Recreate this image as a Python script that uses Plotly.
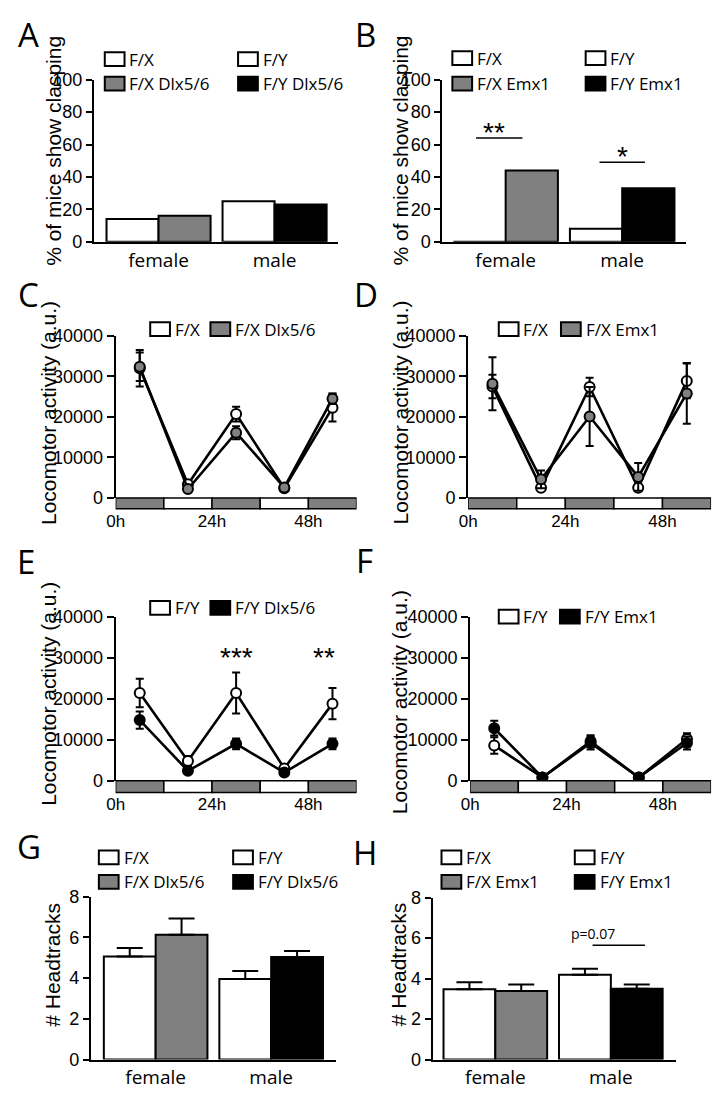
import plotly.graph_objects as go

# ---- data ----
sexes = ["female", "male"]

# A / B: % of mice showing clasping (left bar = control, right bar = mutant)
clasp_dlx_ctrl = [14, 25]      # F/X, F/Y
clasp_dlx_mut = [16, 23]       # F/X Dlx5/6, F/Y Dlx5/6
clasp_emx_ctrl = [0, 8]        # F/X, F/Y
clasp_emx_mut = [44, 33]       # F/X Emx1, F/Y Emx1

# C-F: locomotor activity across light/dark phases
hours = [6, 18, 30, 42, 54]
ld_edges = [0, 12, 24, 36, 48, 60]
ld_colors = ["#808080", "white", "#808080", "white", "#808080"]

loco_c_fx = [32000, 3400, 20700, 2400, 22300]
loco_c_fx_err = [4500, 800, 1800, 500, 3400]
loco_c_dlx = [32400, 2200, 16100, 2600, 24500]
loco_c_dlx_err = [3500, 600, 1600, 500, 1300]

loco_d_fx = [27500, 2500, 27400, 2500, 28900]
loco_d_fx_err = [2900, 800, 2300, 600, 4300]
loco_d_emx = [28200, 4600, 20100, 5200, 25800]
loco_d_emx_err = [6550, 2200, 7300, 3400, 7500]

loco_e_fy = [21400, 4800, 21400, 3000, 18800]
loco_e_fy_err = [3500, 1200, 5000, 900, 3800]
loco_e_dlx = [14800, 2400, 9000, 2000, 9000]
loco_e_dlx_err = [2100, 500, 1300, 500, 1300]

loco_f_fy = [8600, 800, 9200, 800, 10200]
loco_f_fy_err = [2000, 300, 1600, 300, 1400]
loco_f_emx = [12800, 800, 9600, 800, 9200]
loco_f_emx_err = [1800, 300, 1500, 300, 1600]

# G / H: number of headtracks
head_dlx_ctrl = [5.06, 3.95]
head_dlx_ctrl_err = [0.42, 0.40]
head_dlx_mut = [6.12, 5.03]
head_dlx_mut_err = [0.80, 0.30]
head_emx_ctrl = [3.47, 4.19]
head_emx_ctrl_err = [0.35, 0.29]
head_emx_mut = [3.39, 3.50]
head_emx_mut_err = [0.32, 0.21]

GRAY = "#808080"
W, H = 717, 1098


def px(x):
    return min(1.0, max(0.0, x / W))


def py(y):
    return min(1.0, max(0.0, 1 - y / H))


TICK = dict(family="Liberation Sans", size=18, color="black")
LABEL = dict(family="Open Sans", size=17, color="black")

fig = go.Figure()


def bars(ax, ctrl, mut, mut_colors, ctrl_err=None, mut_err=None):
    xa, ya = ("x" + ax, "y" + ax) if ax else ("x", "y")
    for vals, cols, err in ((ctrl, ["white", "white"], ctrl_err), (mut, mut_colors, mut_err)):
        e = None
        if err is not None:
            e = dict(type="data", array=err, symmetric=False, arrayminus=[0, 0],
                     color="black", thickness=2, width=13)
        fig.add_trace(go.Bar(x=sexes, y=vals, xaxis=xa, yaxis=ya,
                             marker=dict(color=cols, line=dict(color="black", width=2)),
                             error_y=e))


def lines(ax, series):
    for vals, err, col in series:
        fig.add_trace(go.Scatter(
            x=hours, y=vals, xaxis="x" + ax, yaxis="y" + ax, mode="lines+markers",
            line=dict(color="black", width=2.6),
            marker=dict(size=10, color=col, line=dict(color="black", width=2)),
            error_y=dict(type="data", array=err, color="black", thickness=2, width=4),
            cliponaxis=False))


bars("", clasp_dlx_ctrl, clasp_dlx_mut, [GRAY, "black"])
bars("2", clasp_emx_ctrl, clasp_emx_mut, [GRAY, "black"])
lines("3", [(loco_c_fx, loco_c_fx_err, "white"), (loco_c_dlx, loco_c_dlx_err, GRAY)])
lines("4", [(loco_d_fx, loco_d_fx_err, "white"), (loco_d_emx, loco_d_emx_err, GRAY)])
lines("5", [(loco_e_fy, loco_e_fy_err, "white"), (loco_e_dlx, loco_e_dlx_err, "black")])
lines("6", [(loco_f_fy, loco_f_fy_err, "white"), (loco_f_emx, loco_f_emx_err, "black")])
bars("7", head_dlx_ctrl, head_dlx_mut, [GRAY, "black"], head_dlx_ctrl_err, head_dlx_mut_err)
bars("8", head_emx_ctrl, head_emx_mut, [GRAY, "black"], head_emx_ctrl_err, head_emx_mut_err)


def yax(top, bottom, rng, dtick, anchor, ticklen=6):
    return dict(domain=[py(bottom), py(top)], range=rng, dtick=dtick, anchor=anchor,
                showline=True, linecolor="black", linewidth=2, ticks="outside",
                ticklen=ticklen, tickwidth=2, tickcolor="black", showgrid=False,
                zeroline=False, tickfont=TICK, tickformat="d")


def xbar(left, right, rng, anchor):
    return dict(domain=[px(left), px(right)], range=rng, anchor=anchor, showline=True,
                linecolor="black", linewidth=2, ticks="", showgrid=False, zeroline=False,
                tickfont=dict(family="Open Sans", size=19, color="black"))


def xline(left, right, bar_bottom):
    return dict(domain=[px(left), px(right)], range=[0, 60], anchor="free",
                position=py(bar_bottom), showline=False, ticks="", showgrid=False,
                zeroline=False, tickvals=[0, 24, 48], ticktext=["0h", "24h", "48h"],
                tickfont=dict(family="Liberation Sans", size=17, color="black"))


fig.update_layout(
    width=W, height=H, margin=dict(l=0, r=0, t=0, b=0),
    plot_bgcolor="white", paper_bgcolor="white", showlegend=False,
    barmode="group", bargap=0.103, bargroupgap=0,
    xaxis=xbar(86, 333, [-0.557, 1.545], "y"),
    yaxis=yax(71, 236, [0, 100], 20, "x"),
    xaxis2=xbar(439, 686, [-0.542, 1.551], "y2"),
    yaxis2=yax(71, 236, [0, 100], 20, "x2"),
    xaxis3=xline(108, 352, 508),
    yaxis3=yax(332, 497, [0, 40000], 10000, "x3", 7),
    xaxis4=xline(465, 711, 508),
    yaxis4=yax(332, 497, [0, 40000], 10000, "x4", 7),
    xaxis5=xline(108, 352, 797),
    yaxis5=yax(618, 785, [0, 40000], 10000, "x5", 7),
    xaxis6=xline(467, 711, 797),
    yaxis6=yax(618, 785, [0, 40000], 10000, "x6", 7),
    xaxis7=xbar(83, 331, [-0.56, 1.56], "y7"),
    yaxis7=yax(903, 1069, [0, 8], 2, "x7"),
    xaxis8=xbar(429, 675, [-0.543, 1.56], "y8"),
    yaxis8=yax(904, 1069, [0, 8], 2, "x8"),
)

shapes = []
annots = []

# light/dark bars under the activity plots
for ax, top, bottom in (("x3", 497, 508), ("x4", 497, 508), ("x5", 785, 797), ("x6", 785, 797)):
    for i, col in enumerate(ld_colors):
        shapes.append(dict(type="rect", xref=ax, yref="paper", x0=ld_edges[i], x1=ld_edges[i + 1],
                           y0=py(bottom), y1=py(top), fillcolor=col,
                           line=dict(color="black", width=1.5)))


def legend_item(x, y, color, text):
    shapes.append(dict(type="rect", xref="paper", yref="paper", x0=px(x), x1=px(x + 20),
                       y0=py(y + 7), y1=py(y - 7), fillcolor=color,
                       line=dict(color="black", width=2)))
    annots.append(dict(x=px(x + 23), y=py(y), xref="paper", yref="paper", text=text,
                       showarrow=False, xanchor="left", yanchor="middle", font=LABEL))


# A
legend_item(97, 50, "white", "F/X")
legend_item(97, 75, GRAY, "F/X Dlx5/6")
legend_item(232, 50, "white", "F/Y")
legend_item(232, 75, "black", "F/Y Dlx5/6")
# B
legend_item(449, 49, "white", "F/X")
legend_item(449, 75, GRAY, "F/X Emx1")
legend_item(584, 49, "white", "F/Y")
legend_item(584, 75, "black", "F/Y Emx1")
# C / D
legend_item(143, 325, "white", "F/X")
legend_item(204, 325, GRAY, "F/X Dlx5/6")
legend_item(496, 325, "white", "F/X")
legend_item(559, 325, GRAY, "F/X Emx1")
# E / F
legend_item(143, 609, "white", "F/Y")
legend_item(204, 609, "black", "F/Y Dlx5/6")
legend_item(496, 618, "white", "F/Y")
legend_item(558, 618, "black", "F/Y Emx1")
# G
legend_item(91, 863, "white", "F/X")
legend_item(91, 888, GRAY, "F/X Dlx5/6")
legend_item(227, 863, "white", "F/Y")
legend_item(227, 888, "black", "F/Y Dlx5/6")
# H
legend_item(438, 863, "white", "F/X")
legend_item(438, 888, GRAY, "F/X Emx1")
legend_item(573, 863, "white", "F/Y")
legend_item(573, 888, "black", "F/Y Emx1")

# panel letters (box top given)
for letter, x, y in (("A", 20, 0), ("B", 361, 0), ("C", 20, 265), ("D", 362, 265),
                     ("E", 17, 537), ("F", 360, 536), ("G", 20, 827), ("H", 361, 833)):
    annots.append(dict(x=px(x), y=py(y), xref="paper", yref="paper", text=letter,
                       showarrow=False, xanchor="center", yanchor="top",
                       font=dict(family="Open Sans", size=33, color="black")))

# y-axis titles
YT = dict(family="Liberation Sans", size=21, color="black")
for text, x, y in (("% of mice show clasping", 45, 143), ("% of mice show clasping", 396, 143),
                   ("Locomotor activity (a.u.)", 40, 410), ("Locomotor activity (a.u.)", 397, 410),
                   ("Locomotor activity (a.u.)", 40, 696), ("Locomotor activity (a.u.)", 395, 705),
                   ("# Headtracks", 44, 972), ("# Headtracks", 394, 972)):
    annots.append(dict(x=px(x), y=py(y), xref="paper", yref="paper", text=text, textangle=-90,
                       showarrow=False, xanchor="center", yanchor="middle", font=YT))

# significance marks
SIG = dict(family="Liberation Sans", size=28, color="black")
for x0, x1, yv in ((473, 520, 64), (598, 644, 49)):
    shapes.append(dict(type="line", xref="paper", yref="y2", x0=px(x0), x1=px(x1), y0=yv, y1=yv,
                       line=dict(color="black", width=1.5)))
for text, x, y in (("**", 491, 125), ("*", 621, 149), ("***", 230, 660), ("**", 319, 660)):
    annots.append(dict(x=px(x), y=py(y), xref="paper", yref="paper", text=text,
                       showarrow=False, xanchor="center", yanchor="middle", font=SIG))
shapes.append(dict(type="line", xref="paper", yref="y8", x0=px(591), x1=px(644), y0=5.64,
                   y1=5.64, line=dict(color="black", width=1.5)))
annots.append(dict(x=px(616), y=5.64, xref="paper", yref="y8", text="p=0.07", showarrow=False,
                   yanchor="bottom", font=dict(family="Open Sans", size=14, color="black")))

fig.update_layout(shapes=shapes, annotations=annots)
# drop the default page margin so the figure sits at the window's corner
fig.write_html("out.html", config={"displayModeBar": False},
               post_script="document.body.style.margin='0';"
               "document.documentElement.style.overflow='hidden';")
